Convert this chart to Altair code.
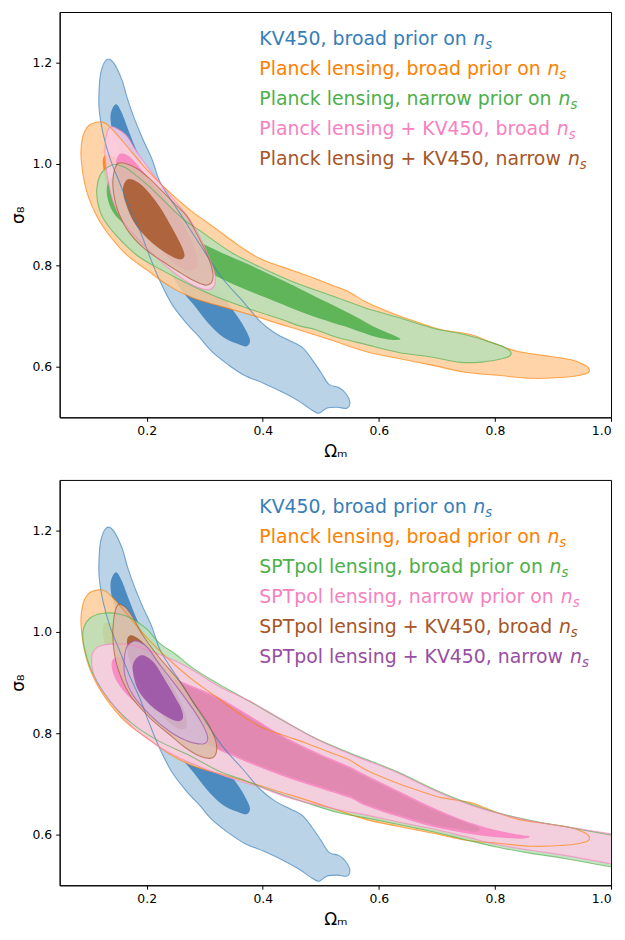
import altair as alt
import pandas as pd

# ---------------- data ----------------
X_DOMAIN = [0.05, 1.0]
Y_DOMAIN = [0.5, 1.3]
X_TICKS = [0.2, 0.4, 0.6, 0.8, 1.0]
Y_TICKS = [0.6, 0.8, 1.0, 1.2]

# KV450, broad prior on n_s (same in both panels)
KV450_OUTER = [(0.130,1.205),(0.142,1.201),(0.157,1.167),(0.167,1.128),(0.179,1.089),(0.193,1.050),
    (0.209,1.010),(0.222,0.967),(0.240,0.932),(0.257,0.903),(0.291,0.842),(0.330,0.775),(0.365,0.730),
    (0.394,0.691),(0.420,0.667),(0.445,0.652),(0.468,0.638),(0.485,0.614),(0.500,0.589),(0.514,0.565),
    (0.531,0.559),(0.543,0.547),(0.550,0.530),(0.545,0.518),(0.528,0.520),(0.510,0.518),(0.497,0.508),
    (0.485,0.514),(0.462,0.532),(0.437,0.548),(0.402,0.567),(0.368,0.583),(0.339,0.605),(0.312,0.630),
    (0.291,0.658),(0.269,0.685),(0.243,0.724),(0.222,0.771),(0.205,0.818),(0.188,0.869),(0.171,0.912),
    (0.154,0.961),(0.137,1.010),(0.125,1.059),(0.118,1.108),(0.118,1.148),(0.121,1.181)]
KV450_INNER = [(0.147,1.118),(0.157,1.101),(0.171,1.059),(0.185,1.020),(0.205,0.971),(0.231,0.912),
    (0.265,0.854),(0.300,0.795),(0.334,0.736),(0.360,0.693),(0.373,0.667),(0.378,0.650),(0.371,0.640),
    (0.354,0.646),(0.332,0.658),(0.308,0.683),(0.281,0.722),(0.257,0.756),(0.231,0.805),(0.205,0.864),
    (0.183,0.923),(0.164,0.981),(0.150,1.030),(0.140,1.069),(0.138,1.099)]

# Planck lensing, broad prior on n_s (same in both panels)
PLANCK_BROAD_OUTER = [(0.116,1.083),(0.128,1.081),(0.142,1.067),(0.171,1.028),(0.200,0.989),(0.234,0.950),
    (0.274,0.910),(0.311,0.879),(0.360,0.838),(0.394,0.814),(0.433,0.797),(0.474,0.781),(0.514,0.763),
    (0.548,0.748),(0.577,0.728),(0.622,0.706),(0.668,0.687),(0.708,0.673),(0.759,0.663),(0.793,0.648),
    (0.817,0.638),(0.840,0.630),(0.896,0.620),(0.930,0.614),(0.954,0.604),(0.963,0.593),(0.954,0.585),
    (0.920,0.579),(0.862,0.577),(0.805,0.583),(0.749,0.589),(0.691,0.603),(0.634,0.616),(0.577,0.630),
    (0.519,0.652),(0.462,0.673),(0.433,0.683),(0.377,0.703),(0.325,0.720),(0.279,0.736),(0.239,0.759),
    (0.200,0.791),(0.166,0.820),(0.137,0.857),(0.114,0.897),(0.096,0.948),(0.087,1.010),(0.089,1.050),
    (0.099,1.075)]
PLANCK_BROAD_INNER = [(0.125,1.012),(0.137,1.018),(0.160,1.000),(0.190,0.960),(0.240,0.888),(0.274,0.852),
    (0.320,0.825),(0.377,0.796),(0.433,0.766),(0.497,0.733),(0.548,0.705),(0.575,0.690),(0.570,0.683),
    (0.548,0.690),(0.497,0.708),(0.433,0.728),(0.377,0.756),(0.320,0.784),(0.265,0.815),(0.214,0.848),
    (0.175,0.872),(0.150,0.900),(0.138,0.940),(0.127,0.980)]

# Planck lensing, narrow prior on n_s (top panel)
PLANCK_NARROW_OUTER = [(0.120,0.979),(0.132,0.993),(0.145,0.999),(0.163,0.993),(0.180,0.979),(0.205,0.955),
    (0.240,0.916),(0.265,0.889),(0.291,0.869),(0.348,0.824),(0.406,0.791),(0.462,0.763),(0.519,0.740),
    (0.577,0.716),(0.634,0.697),(0.690,0.677),(0.749,0.663),(0.783,0.652),(0.817,0.638),(0.828,0.626),
    (0.817,0.617),(0.776,0.609),(0.737,0.609),(0.691,0.619),(0.634,0.628),(0.577,0.644),(0.548,0.652),
    (0.519,0.661),(0.491,0.673),(0.462,0.681),(0.433,0.693),(0.377,0.714),(0.320,0.738),(0.279,0.759),
    (0.222,0.793),(0.183,0.820),(0.149,0.857),(0.125,0.893),(0.116,0.922),(0.114,0.952)]
PLANCK_NARROW_INNER = [(0.137,0.971),(0.151,0.977),(0.171,0.961),(0.205,0.932),(0.240,0.893),(0.274,0.857),
    (0.320,0.830),(0.377,0.801),(0.433,0.771),(0.462,0.755),(0.509,0.728),(0.553,0.703),(0.588,0.681),
    (0.611,0.669),(0.637,0.655),(0.622,0.653),(0.594,0.659),(0.553,0.675),(0.509,0.691),(0.462,0.710),
    (0.406,0.736),(0.348,0.763),(0.291,0.795),(0.240,0.828),(0.197,0.854),(0.166,0.877),(0.142,0.905),
    (0.132,0.936),(0.132,0.958)]

# Planck lensing + KV450, broad n_s (top panel)
PLANCK_KV_BROAD_OUTER = [(0.137,1.073),(0.150,1.069),(0.166,1.055),(0.183,1.024),(0.210,0.981),(0.239,0.940),
    (0.269,0.899),(0.291,0.857),(0.308,0.814),(0.318,0.779),(0.315,0.757),(0.303,0.752),(0.279,0.761),
    (0.248,0.785),(0.214,0.818),(0.183,0.854),(0.159,0.887),(0.142,0.926),(0.132,0.977),(0.128,1.020),
    (0.130,1.054)]
PLANCK_KV_BROAD_INNER = [(0.154,1.020),(0.171,1.014),(0.197,0.981),(0.231,0.932),(0.262,0.883),(0.282,0.834),
    (0.287,0.799),(0.274,0.789),(0.253,0.799),(0.222,0.834),(0.188,0.883),(0.166,0.928),(0.150,0.971),
    (0.147,1.001)]

# Planck lensing + KV450, narrow n_s (top panel)
PLANCK_KV_NARROW_OUTER = [(0.150,1.001),(0.163,1.001),(0.183,0.991),(0.205,0.971),(0.222,0.952),(0.248,0.922),
    (0.269,0.897),(0.286,0.863),(0.303,0.824),(0.313,0.791),(0.313,0.769),(0.301,0.761),(0.279,0.771),
    (0.253,0.789),(0.227,0.808),(0.193,0.836),(0.166,0.871),(0.149,0.912),(0.142,0.952),(0.143,0.981)]
PLANCK_KV_NARROW_INNER = [(0.166,0.969),(0.180,0.967),(0.197,0.952),(0.222,0.916),(0.245,0.871),(0.260,0.838),
    (0.265,0.818),(0.255,0.812),(0.231,0.826),(0.202,0.852),(0.178,0.885),(0.164,0.922),(0.159,0.950)]

# SPTpol lensing, broad prior on n_s (bottom panel)
SPT_BROAD_OUTER = [(0.102,1.027),(0.125,1.037),(0.154,1.035),(0.176,1.025),(0.200,1.006),(0.222,0.978),
    (0.251,0.955),(0.279,0.929),(0.320,0.900),(0.377,0.863),(0.433,0.826),(0.491,0.790),(0.548,0.762),
    (0.577,0.749),(0.634,0.723),(0.690,0.692),(0.749,0.664),(0.805,0.643),(0.862,0.628),(0.920,0.616),
    (0.997,0.600),(1.062,0.588),(1.062,0.522),(0.996,0.537),(0.920,0.553),(0.862,0.563),(0.805,0.575),
    (0.749,0.590),(0.691,0.606),(0.634,0.620),(0.577,0.633),(0.531,0.643),(0.480,0.661),(0.416,0.686),
    (0.371,0.706),(0.325,0.725),(0.269,0.759),(0.222,0.784),(0.176,0.818),(0.137,0.863),(0.108,0.916),
    (0.094,0.961),(0.090,1.000)]
SPT_BROAD_INNER = [(0.200,0.925),(0.251,0.902),(0.320,0.869),(0.377,0.831),(0.433,0.792),(0.491,0.759),
    (0.548,0.731),(0.577,0.714),(0.634,0.682),(0.690,0.651),(0.749,0.624),(0.772,0.614),(0.768,0.606),
    (0.740,0.610),(0.691,0.620),(0.634,0.639),(0.577,0.661),(0.548,0.677),(0.491,0.698),(0.433,0.720),
    (0.377,0.745),(0.320,0.773),(0.257,0.806),(0.215,0.835),(0.195,0.880)]

# SPTpol lensing, narrow prior on n_s (bottom panel)
SPT_NARROW_OUTER = [(0.114,0.969),(0.128,0.975),(0.142,0.976),(0.171,0.975),(0.200,0.965),(0.245,0.945),
    (0.286,0.920),(0.325,0.892),(0.377,0.864),(0.433,0.827),(0.491,0.789),(0.548,0.760),(0.577,0.747),
    (0.634,0.721),(0.690,0.690),(0.749,0.662),(0.805,0.642),(0.862,0.627),(0.920,0.616),(0.997,0.602),
    (1.062,0.590),(1.062,0.529),(0.997,0.543),(0.920,0.559),(0.862,0.569),(0.805,0.580),(0.749,0.596),
    (0.691,0.612),(0.634,0.625),(0.577,0.639),(0.531,0.649),(0.450,0.671),(0.394,0.694),(0.337,0.714),
    (0.269,0.745),(0.222,0.773),(0.176,0.812),(0.137,0.863),(0.114,0.900),(0.106,0.931),(0.106,0.955)]
SPT_NARROW_INNER = [(0.140,0.941),(0.154,0.951),(0.180,0.945),(0.214,0.925),(0.251,0.906),(0.320,0.873),
    (0.377,0.835),(0.433,0.796),(0.491,0.763),(0.548,0.735),(0.577,0.718),(0.634,0.686),(0.690,0.655),
    (0.749,0.627),(0.805,0.608),(0.840,0.600),(0.860,0.596),(0.840,0.592),(0.776,0.598),(0.691,0.616),
    (0.634,0.635),(0.577,0.657),(0.548,0.673),(0.491,0.694),(0.433,0.716),(0.377,0.741),(0.320,0.769),
    (0.257,0.802),(0.205,0.837),(0.166,0.876),(0.145,0.910)]

# SPTpol lensing + KV450, broad n_s (bottom panel)
SPT_KV_BROAD_OUTER = [(0.150,1.053),(0.163,1.049),(0.175,1.031),(0.193,0.994),(0.222,0.949),(0.257,0.902),
    (0.279,0.863),(0.303,0.824),(0.318,0.788),(0.320,0.763),(0.311,0.751),(0.291,0.755),(0.265,0.773),
    (0.245,0.792),(0.205,0.831),(0.171,0.876),(0.150,0.929),(0.142,0.980),(0.143,1.024)]
SPT_KV_BROAD_INNER = [(0.168,0.990),(0.178,0.992),(0.197,0.975),(0.222,0.935),(0.248,0.886),(0.265,0.843),
    (0.269,0.814),(0.257,0.808),(0.236,0.824),(0.205,0.867),(0.183,0.910),(0.169,0.949),(0.166,0.975)]

# SPTpol lensing + KV450, narrow n_s (bottom panel)
SPT_KV_NARROW_OUTER = [(0.178,0.982),(0.188,0.980),(0.202,0.969),(0.219,0.941),(0.245,0.902),(0.274,0.857),
    (0.296,0.818),(0.305,0.792),(0.300,0.780),(0.284,0.780),(0.267,0.786),(0.239,0.804),(0.205,0.837),
    (0.176,0.876),(0.162,0.916),(0.162,0.955),(0.167,0.973)]
SPT_KV_NARROW_INNER = [(0.188,0.953),(0.200,0.951),(0.214,0.937),(0.231,0.906),(0.248,0.873),(0.260,0.847),
    (0.262,0.829),(0.252,0.824),(0.231,0.835),(0.205,0.857),(0.185,0.886),(0.176,0.922),(0.178,0.941)]

TOP_LABELS = ["KV450, broad prior on ", "Planck lensing, broad prior on ",
              "Planck lensing, narrow prior on ", "Planck lensing + KV450, broad ",
              "Planck lensing + KV450, narrow "]
BOTTOM_LABELS = ["KV450, broad prior on ", "Planck lensing, broad prior on ",
                 "SPTpol lensing, broad prior on ", "SPTpol lensing, narrow prior on ",
                 "SPTpol lensing + KV450, broad ", "SPTpol lensing + KV450, narrow "]

# ---------------- styling ----------------
BLUE, ORANGE, GREEN, PINK, BROWN, PURPLE = "#377eb8", "#ff7f00", "#4daf4a", "#f781bf", "#a65628", "#984ea3"
W, H = 555, 408
FONT = "DejaVu Sans"
FS = 19
LEG_X = 201
LEG_Y0 = 33
LEG_STEP = 30.2

# DejaVu Sans advance widths (per 1000 em) for legend layout
ADV = {' ': 318, ',': 318, '+': 838, '0': 636, '4': 636, '5': 636, 'K': 656, 'V': 684, 'P': 603,
       'S': 635, 'T': 611, 'a': 613, 'b': 635, 'c': 550, 'd': 635, 'e': 615, 'g': 635, 'i': 278,
       'k': 579, 'l': 278, 'n': 634, 'o': 612, 'p': 635, 'r': 411, 's': 521, 'w': 818, 't': 392}


def text_width(s, size):
    return sum(ADV.get(c, 600) for c in s) / 1000.0 * size


def lighten(hexc, f=0.4):
    rgb = [int(hexc[i:i + 2], 16) for i in (1, 3, 5)]
    return "#%02x%02x%02x" % tuple(int(round(255 - f * (255 - c))) for c in rgb)


xscale = alt.Scale(domain=X_DOMAIN, nice=False, zero=False)
yscale = alt.Scale(domain=Y_DOMAIN, nice=False, zero=False)
AXIS_STYLE = dict(grid=False, format=".1f", labelFont=FONT, labelFontSize=12.5, labelColor="black",
                  titleFont=FONT, titleFontSize=17, titleFontWeight="normal", titleColor="black",
                  tickSize=4, tickColor="black", tickWidth=1, domainColor="black", domainWidth=1)
xaxis = alt.Axis(values=X_TICKS, title="Ωₘ", labelPadding=3, titlePadding=7, **AXIS_STYLE)
yaxis = alt.Axis(values=Y_TICKS, title="σ₈", labelPadding=4, titlePadding=5, **AXIS_STYLE)


def frame(pts):
    return pd.DataFrame({"x": [p[0] for p in pts], "y": [p[1] for p in pts], "i": list(range(len(pts)))})


def encode(ch):
    return ch.encode(x=alt.X("x:Q", scale=xscale, axis=xaxis),
                     y=alt.Y("y:Q", scale=yscale, axis=yaxis),
                     order=alt.Order("i:Q"))


def fill_layer(pts, color, opacity=0.85):
    return encode(alt.Chart(frame(pts)).mark_line(
        interpolate="cardinal-closed", fill=color, fillOpacity=opacity,
        stroke=color, strokeOpacity=0, strokeWidth=0, clip=True))


def stroke_layer(pts, color):
    return encode(alt.Chart(frame(pts)).mark_line(
        interpolate="cardinal-closed", stroke=color, strokeOpacity=0.65, strokeWidth=1.1,
        fillOpacity=0, clip=True))


ONE = pd.DataFrame({"a": [0]})


def legend_layers(labels, colors):
    out = []
    for k, (lab, col) in enumerate(zip(labels, colors)):
        yb = LEG_Y0 + k * LEG_STEP
        w = text_width(lab, FS)
        out.append(alt.Chart(ONE).mark_text(text=lab, align="left", baseline="alphabetic", font=FONT,
                                            fontSize=FS, color=col)
                   .encode(x=alt.value(LEG_X), y=alt.value(yb)))
        out.append(alt.Chart(ONE).mark_text(text="n", align="left", baseline="alphabetic", font=FONT,
                                            fontSize=FS, fontStyle="italic", color=col)
                   .encode(x=alt.value(LEG_X + w), y=alt.value(yb)))
        out.append(alt.Chart(ONE).mark_text(text="s", align="left", baseline="alphabetic", font=FONT,
                                            fontSize=FS * 0.7, fontStyle="italic", color=col)
                   .encode(x=alt.value(LEG_X + w + 0.634 * FS), y=alt.value(yb + 4)))
    return out


def panel(fill_order, outlines, labels, colors):
    fills = [fill_layer(pts, lighten(col) if kind == "outer" else col) for pts, col, kind in fill_order]
    strokes = [stroke_layer(pts, col) for pts, col in outlines]
    return alt.layer(*fills, *strokes, *legend_layers(labels, colors)).properties(width=W, height=H)


top = panel(
    [(KV450_OUTER, BLUE, "outer"), (KV450_INNER, BLUE, "inner"),
     (PLANCK_BROAD_OUTER, ORANGE, "outer"), (PLANCK_BROAD_INNER, ORANGE, "inner"),
     (PLANCK_NARROW_OUTER, GREEN, "outer"), (PLANCK_NARROW_INNER, GREEN, "inner"),
     (PLANCK_KV_BROAD_OUTER, PINK, "outer"), (PLANCK_KV_BROAD_INNER, PINK, "inner"),
     (PLANCK_KV_NARROW_OUTER, BROWN, "outer"), (PLANCK_KV_NARROW_INNER, BROWN, "inner")],
    [(KV450_OUTER, BLUE), (PLANCK_BROAD_OUTER, ORANGE), (PLANCK_NARROW_OUTER, GREEN),
     (PLANCK_KV_BROAD_OUTER, PINK), (PLANCK_KV_NARROW_OUTER, BROWN)],
    TOP_LABELS, [BLUE, ORANGE, GREEN, PINK, BROWN])

bottom = panel(
    [(KV450_OUTER, BLUE, "outer"), (KV450_INNER, BLUE, "inner"),
     (PLANCK_BROAD_OUTER, ORANGE, "outer"), (PLANCK_BROAD_INNER, ORANGE, "inner"),
     (SPT_BROAD_OUTER, GREEN, "outer"), (SPT_NARROW_OUTER, PINK, "outer"),
     (SPT_BROAD_INNER, GREEN, "inner"), (SPT_NARROW_INNER, PINK, "inner"),
     (SPT_KV_BROAD_OUTER, BROWN, "outer"), (SPT_KV_BROAD_INNER, BROWN, "inner"),
     (SPT_KV_NARROW_OUTER, PURPLE, "outer"), (SPT_KV_NARROW_INNER, PURPLE, "inner")],
    [(KV450_OUTER, BLUE), (PLANCK_BROAD_OUTER, ORANGE), (SPT_BROAD_OUTER, GREEN),
     (SPT_NARROW_OUTER, PINK), (SPT_KV_BROAD_OUTER, BROWN), (SPT_KV_NARROW_OUTER, PURPLE)],
    BOTTOM_LABELS, [BLUE, ORANGE, GREEN, PINK, BROWN, PURPLE])

chart = (alt.vconcat(top, bottom, spacing=19)
         .properties(padding={"left": 0, "top": 0, "right": 5, "bottom": 0}, background="white")
         .configure_view(stroke="black", strokeWidth=1))

chart.save("out.html", embed_options={"renderer": "svg", "actions": False})
